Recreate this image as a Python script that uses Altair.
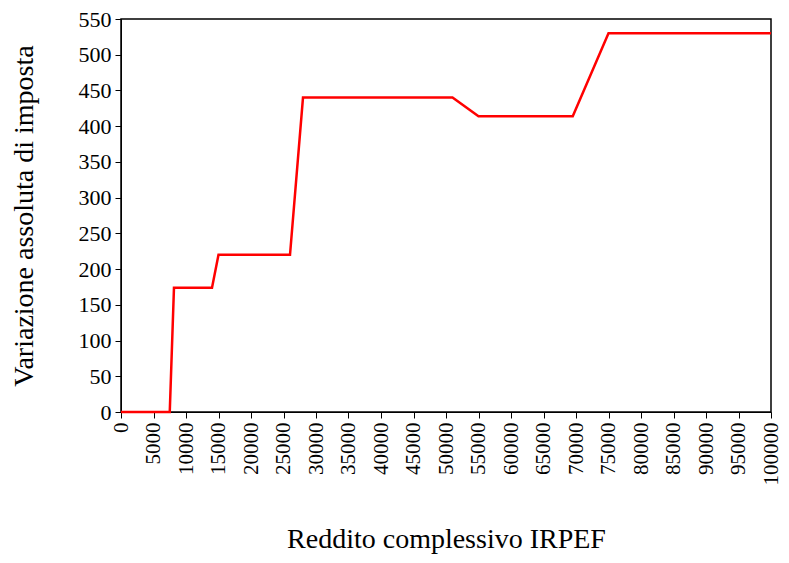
import altair as alt
import pandas as pd

reddito = [0, 7500, 8150, 14000, 15000, 26000, 28000, 51000, 55000, 69500, 75000, 100000]
variazione = [0, 0, 174, 174, 220, 220, 440, 440, 414, 414, 530, 530]

df = pd.DataFrame({"reddito": reddito, "variazione": variazione})

x_ticks = list(range(0, 100001, 5000))
y_ticks = list(range(0, 551, 50))

font = "Liberation Serif"

common = dict(labelFont=font, titleFont=font, titleFontSize=28,
              labelColor="black", titleColor="black", domainColor="black",
              tickColor="black", tickSize=6, labelPadding=4, titleFontWeight="normal",
              labelFlush=False, labelOverlap=False, grid=False, format="d")

chart = alt.Chart(df).mark_line(color="#ff0000", strokeWidth=2.5).encode(
    x=alt.X("reddito:Q", scale=alt.Scale(domain=[0, 100000], nice=False),
            axis=alt.Axis(values=x_ticks, title="Reddito complessivo IRPEF",
                          labelAngle=270, labelAlign="right", labelBaseline="middle",
                          labelFontSize=21, titlePadding=40, **common)),
    y=alt.Y("variazione:Q", scale=alt.Scale(domain=[0, 550], nice=False),
            axis=alt.Axis(values=y_ticks, title="Variazione assoluta di imposta",
                          labelFontSize=22, titlePadding=40, **common)),
).properties(
    width=650, height=393,
    autosize=alt.AutoSizeParams(type="none"),
    padding={"left": 113, "top": 11, "right": 10, "bottom": 143},
).configure_view(stroke="black", strokeWidth=1.5)

chart.save("out.html", embed_options={"renderer": "svg", "actions": False})
